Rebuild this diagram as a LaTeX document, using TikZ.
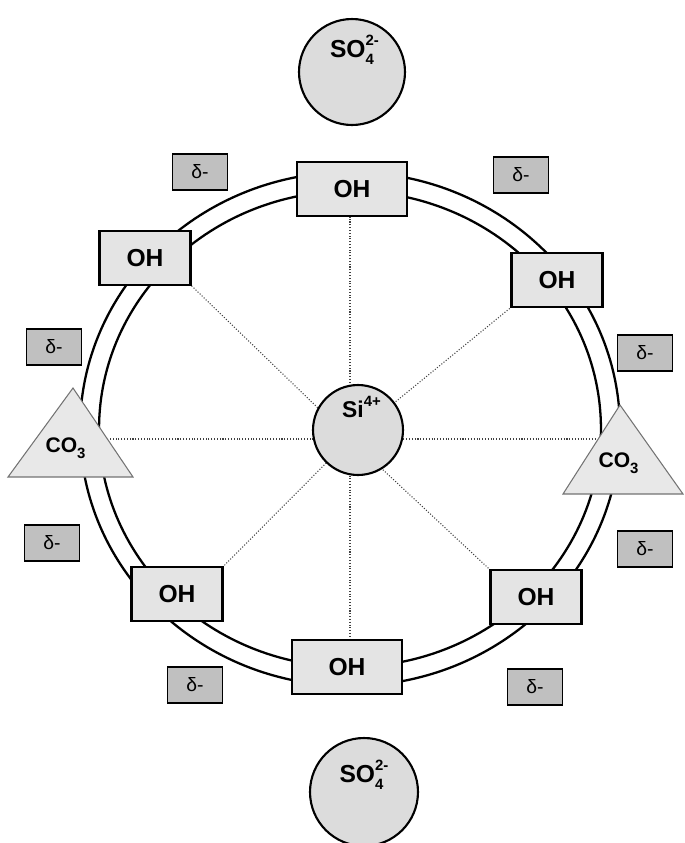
\documentclass[tikz,border=0pt]{standalone}
\usepackage{fontspec}
\setmainfont{Liberation Sans}
\usetikzlibrary{backgrounds}
\definecolor{boxgray}{RGB}{228,228,228}
\definecolor{deltagray}{RGB}{192,192,192}
\definecolor{iongray}{RGB}{220,220,220}
\definecolor{trigray}{RGB}{232,232,232}
% formula with stacked sub- and superscript
\newcommand{\chemlabel}[3]{#1\rlap{\raisebox{0.5em}{\fontsize{8.5}{9}\selectfont #3}}%
  \raisebox{-0.28em}{\fontsize{8.5}{9}\selectfont #2}\phantom{\fontsize{8.5}{9}\selectfont -}}
\tikzset{
  ohbox/.style={rectangle,draw=black,line width=1.2pt,fill=boxgray,minimum width=1.82cm,
    minimum height=1.07cm,inner sep=0pt,font=\fontsize{14}{15}\selectfont\bfseries},
  ohwide/.style={ohbox,minimum width=2.2cm},
  dbox/.style={rectangle,draw=black,line width=1.1pt,fill=deltagray,minimum width=1.1cm,
    minimum height=0.73cm,inner sep=0pt,font=\fontsize{11}{12}\selectfont},
  ion/.style={circle,draw=black,line width=1.2pt,fill=iongray,inner sep=0pt},
  iontxt/.style={inner sep=0pt,font=\fontsize{14}{15}\selectfont\bfseries},
  tri/.style={draw=black!55,line width=0.6pt,fill=trigray},
  ring/.style={line width=1.3pt},
  spoke/.style={densely dotted,line width=0.6pt,draw=black!75},
}

\begin{document}
\begin{tikzpicture}[x=0.02cm,y=-0.02cm]
  \useasboundingbox (0,0) rectangle (685,843);
  \coordinate (hub) at (350,439);
  % sulfate ions
  \node (so4t) [ion,minimum size=2.12cm] at (352,72) {};
  \node (so4tl)[iontxt] at ([xshift=0.05cm,yshift=0.44cm]so4t.center) {\chemlabel{SO}{4}{2-}};
  \node (so4b) [ion,minimum size=2.16cm] at (364,792) {};
  \node (so4bl)[iontxt] at ([yshift=0.34cm]so4b.center) {\chemlabel{SO}{4}{2-}};
  % silicon
  \node (si)   [ion,minimum size=1.8cm] at (358,430) {};
  \node (sil)  [iontxt,font=\fontsize{13}{14}\selectfont\bfseries] at ([xshift=-0.05cm,yshift=0.4cm]si.center)
    {\chemlabel{Si}{}{4+}};
  % hydroxyl groups
  \node (ohtop)[ohwide] at (352,189) {OH};
  \node (ohul) [ohbox]  at (145,258) {OH};
  \node (ohur) [ohbox]  at (557,280) {OH};
  \node (ohll) [ohbox]  at (177,594) {OH};
  \node (ohlr) [ohbox]  at (536,597) {OH};
  \node (ohbot)[ohwide] at (347,667) {OH};
  % carbonate
  \filldraw[tri] (73,388) -- (133,477) -- (8,477) -- cycle;
  \filldraw[tri] (620,405) -- (683,494) -- (563,494) -- cycle;
  \node (co3l) [iontxt,font=\fontsize{12}{13}\selectfont\bfseries] at (68,448) {\chemlabel{CO}{3}{}};
  \node (co3r) [iontxt,font=\fontsize{12}{13}\selectfont\bfseries] at (621,463) {\chemlabel{CO}{3}{}};
  \coordinate (co3le) at (110,439);
  \coordinate (co3re) at (597,439);
  % partial charges
  \node (d1) [dbox] at (200,172) {δ-};
  \node (d2) [dbox] at (521,175) {δ-};
  \node (d3) [dbox] at (54,347)  {δ-};
  \node (d4) [dbox] at (645,353) {δ-};
  \node (d5) [dbox] at (52,543)  {δ-};
  \node (d6) [dbox] at (645,549) {δ-};
  \node (d7) [dbox] at (195,685) {δ-};
  \node (d8) [dbox] at (535,687) {δ-};
  \begin{pgfonlayer}{background}
    \draw[ring] (350,429) ellipse [x radius=5.4cm,y radius=5.14cm];
    \draw[ring] (350,429) ellipse [x radius=5.02cm,y radius=4.76cm];
    \draw[spoke] (hub) -- (hub |- ohtop.south);
    \draw[spoke] (hub) -- (hub |- ohbot.north);
    \draw[spoke] (hub) -- (ohul.south east);
    \draw[spoke] (hub) -- (ohur.south west);
    \draw[spoke] (hub) -- (ohll.north east);
    \draw[spoke] (hub) -- (ohlr.north west);
    \draw[spoke] (hub) -- (co3le);
    \draw[spoke] (hub) -- (co3re);
  \end{pgfonlayer}
\end{tikzpicture}
\end{document}
